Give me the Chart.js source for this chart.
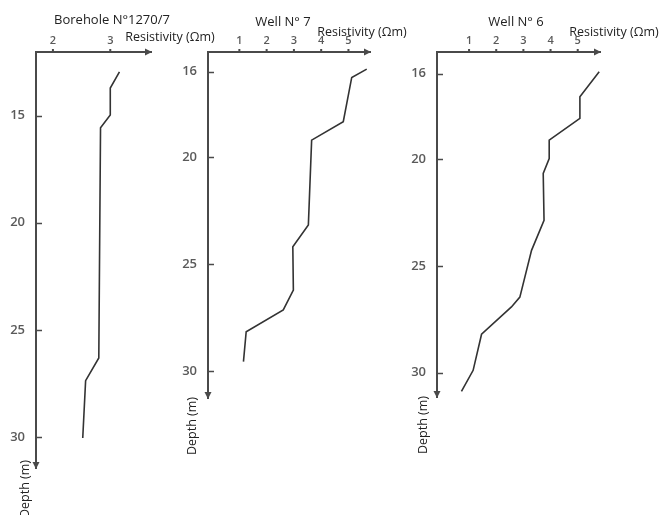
<!DOCTYPE html>
<html>
<head>
<meta charset="utf-8">
<script src="https://cdn.jsdelivr.net/npm/chart.js@4"></script>
<style>
  html, body { margin:0; padding:0; background:#fff; }
  #wrap { position:relative; width:662px; height:515px; overflow:hidden; }
  canvas { position:absolute; left:0; top:0; }
</style>
</head>
<body>
<div id="wrap">
  <canvas id="c1" width="662" height="515"></canvas>
  <canvas id="c2" width="662" height="515"></canvas>
  <canvas id="c3" width="662" height="515"></canvas>
</div>
<script>
// ---- Data ----
const boreholeDepth = [12.97, 13.72, 14.98, 15.57, 26.3, 27.36, 30.03];
const boreholeRes   = [3.16, 3.0, 3.0, 2.83, 2.80, 2.57, 2.52];

const well7Depth = [15.88, 16.27, 18.34, 19.2, 23.17, 24.19, 26.21, 27.14, 28.16, 29.56];
const well7Res   = [5.67, 5.12, 4.81, 3.65, 3.53, 2.96, 2.98, 2.61, 1.25, 1.15];

const well6Depth = [15.91, 17.08, 18.09, 19.11, 19.97, 20.67, 22.86, 24.27, 26.46, 26.92, 28.2, 29.89, 30.88];
const well6Res   = [5.79, 5.08, 5.08, 3.95, 3.95, 3.73, 3.76, 3.30, 2.87, 2.56, 1.46, 1.15, 0.72];

const boreholeXTicks = [2, 3];
const boreholeYTicks = [15, 20, 25, 30];
const wellXTicks = [1, 2, 3, 4, 5];
const wellYTicks = [16, 20, 25, 30];

const titles = ['Borehole N°1270/7', 'Well N° 7', 'Well N° 6'];
const xTitle = 'Resistivity (Ωm)';
const yTitle = 'Depth (m)';

// ---- Drawing ----
const W = 662, H = 515, YW = 30, XH = 20;
const AXIS = '#4a4a4a', TXT = '#222', TICKTXT = '#5a5a5a', LINE = '#333';
const FONT = '"Open Sans", "DejaVu Sans", sans-serif';

const deco = {
  id: 'deco',
  afterDraw(chart, args, o) {
    const ctx = chart.ctx, a = chart.chartArea;
    const xs = chart.scales.x, ys = chart.scales.y;
    ctx.save();
    ctx.fillStyle = AXIS; ctx.strokeStyle = AXIS;
    // arrowheads
    ctx.beginPath();
    ctx.moveTo(a.right + 1, a.top);
    ctx.lineTo(a.right - 6, a.top - 3.5);
    ctx.lineTo(a.right - 6, a.top + 3.5);
    ctx.closePath(); ctx.fill();
    ctx.beginPath();
    ctx.moveTo(a.left, a.bottom + 1);
    ctx.lineTo(a.left - 3.5, a.bottom - 6);
    ctx.lineTo(a.left + 3.5, a.bottom - 6);
    ctx.closePath(); ctx.fill();
    // x tick dots
    xs.ticks.forEach(t => {
      const px = xs.getPixelForValue(t.value);
      ctx.fillRect(px - 1, a.top - 3, 2, 3);
    });
    // y inner ticks
    ctx.lineWidth = 1.5;
    ys.ticks.forEach(t => {
      const py = Math.round(ys.getPixelForValue(t.value)) + 0.5;
      ctx.beginPath(); ctx.moveTo(a.left, py); ctx.lineTo(a.left + 6, py); ctx.stroke();
    });
    // texts
    ctx.fillStyle = TXT;
    ctx.textAlign = 'center'; ctx.textBaseline = 'middle';
    ctx.font = '13px ' + FONT;
    ctx.fillText(o.title, o.titleX, o.titleY);
    ctx.font = '12.5px ' + FONT;
    ctx.fillText(xTitle, o.xtX, o.xtY);
    ctx.save();
    ctx.translate(o.ytX, o.ytY);
    ctx.rotate(-Math.PI / 2);
    ctx.font = '12.5px ' + FONT;
    ctx.fillText(yTitle, 0, 0);
    ctx.restore();
    ctx.restore();
  }
};

function makePanel(id, p) {
  const ctx = document.getElementById(id).getContext('2d');
  return new Chart(ctx, {
    type: 'line',
    data: {
      datasets: [{
        data: p.res.map((r, i) => ({ x: r, y: p.depth[i] })),
        borderColor: LINE, borderWidth: 1.6, pointRadius: 0, fill: false, tension: 0
      }]
    },
    options: {
      responsive: false, animation: false, devicePixelRatio: 1,
      layout: { padding: { left: p.left - YW, top: p.top - XH, right: W - p.right, bottom: H - p.bottom } },
      plugins: { legend: { display: false }, tooltip: { enabled: false }, deco: p.deco },
      scales: {
        x: {
          type: 'linear', position: 'top', min: p.xmin, max: p.xmax,
          afterBuildTicks: s => { s.ticks = p.xticks.map(v => ({ value: v })); },
          afterFit: s => { s.height = XH; },
          grid: { display: true, drawOnChartArea: false, drawTicks: false, color: 'rgba(0,0,0,0)' },
          border: { display: true, color: AXIS, width: 2 },
          ticks: { padding: 5, color: TICKTXT, font: { family: FONT, size: 11, weight: '600' } }
        },
        y: {
          type: 'linear', reverse: true, min: p.ymin, max: p.ymax,
          afterBuildTicks: s => { s.ticks = p.yticks.map(v => ({ value: v })); },
          afterFit: s => { s.width = YW; },
          grid: { display: true, drawOnChartArea: false, drawTicks: false, color: 'rgba(0,0,0,0)' },
          border: { display: true, color: AXIS, width: 2 },
          ticks: { padding: 11, color: TICKTXT, font: { family: FONT, size: 13, weight: '600' } }
        }
      }
    },
    plugins: [deco]
  });
}

makePanel('c1', {
  res: boreholeRes, depth: boreholeDepth, xticks: boreholeXTicks, yticks: boreholeYTicks,
  left: 36, top: 52, right: 151, bottom: 468,
  xmin: 1.705, xmax: 3.71, ymin: 12.04, ymax: 31.43,
  deco: { title: titles[0], titleX: 112, titleY: 20, xtX: 170, xtY: 37, ytX: 25, ytY: 489 }
});
makePanel('c2', {
  res: well7Res, depth: well7Depth, xticks: wellXTicks, yticks: wellYTicks,
  left: 208, top: 52, right: 370, bottom: 398,
  xmin: -0.15, xmax: 5.79, ymin: 15.08, ymax: 31.26,
  deco: { title: titles[1], titleX: 283, titleY: 22, xtX: 362, xtY: 32, ytX: 192, ytY: 426 }
});
makePanel('c3', {
  res: well6Res, depth: well6Depth, xticks: wellXTicks, yticks: wellYTicks,
  left: 437, top: 52, right: 600, bottom: 397,
  xmin: -0.18, xmax: 5.82, ymin: 14.98, ymax: 31.14,
  deco: { title: titles[2], titleX: 516, titleY: 22, xtX: 614, xtY: 32, ytX: 423, ytY: 425 }
});
</script>
</body>
</html>
